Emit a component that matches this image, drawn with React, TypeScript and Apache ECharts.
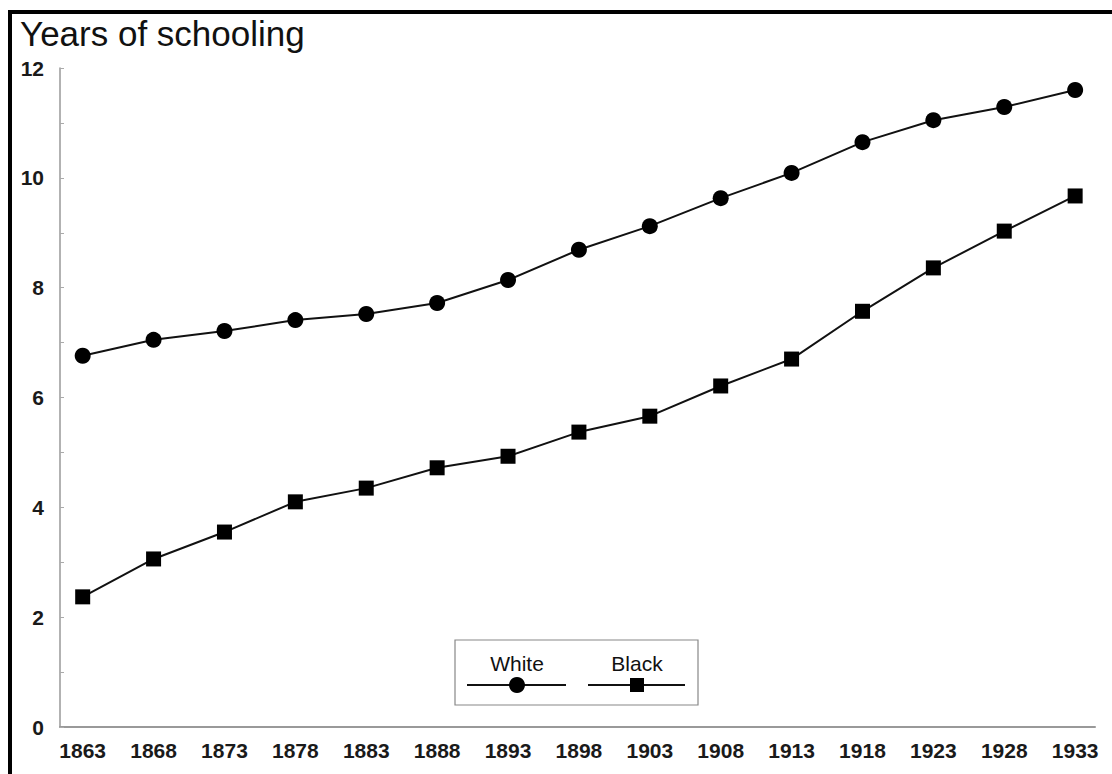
import React, { useEffect, useRef } from "react";
import * as echarts from "echarts";

const years = [1863, 1868, 1873, 1878, 1883, 1888, 1893, 1898, 1903, 1908, 1913, 1918, 1923, 1928, 1933];
const whiteValues = [6.76, 7.05, 7.21, 7.41, 7.52, 7.72, 8.14, 8.69, 9.12, 9.63, 10.09, 10.65, 11.05, 11.29, 11.6];
const blackValues = [2.37, 3.06, 3.55, 4.1, 4.35, 4.72, 4.93, 5.37, 5.66, 6.21, 6.7, 7.57, 8.36, 9.03, 9.67];
const yLabels = [0, 2, 4, 6, 8, 10, 12];
const titleText = "Years of schooling";
const seriesNames = ["White", "Black"];

export default function App() {
  const ref = useRef<HTMLDivElement>(null);
  useEffect(() => {
    if (!ref.current) return;
    const chart = echarts.init(ref.current, undefined, { renderer: "svg" });
    const labelFont = { fontFamily: "Liberation Sans", fontSize: 21, fontWeight: "bold" as const, color: "#1a1a1a" };
    chart.setOption({
      animation: false,
      backgroundColor: "#fff",
      grid: { left: 60, right: 17, top: 68, bottom: 47, containLabel: false },
      xAxis: {
        type: "value",
        min: 1861.4,
        max: 1934.4,
        splitLine: { show: false },
        axisTick: { show: false },
        axisLine: { show: true, lineStyle: { color: "#999", width: 2 } },
        axisLabel: {
          ...labelFont,
          margin: 13,
          customValues: years,
          formatter: (v: number) => String(v),
        },
      },
      yAxis: {
        type: "value",
        min: 0,
        max: 12,
        interval: 1,
        splitLine: { show: false },
        axisLine: { show: true, lineStyle: { color: "#999", width: 1.5 } },
        axisTick: { show: true, inside: true, length: 4, lineStyle: { color: "#aaa", width: 1 } },
        axisLabel: {
          ...labelFont,
          margin: 16,
          formatter: (v: number) => (yLabels.indexOf(v) >= 0 ? String(v) : ""),
        },
      },
      series: [
        {
          name: seriesNames[0],
          type: "line",
          data: years.map((y, i) => [y, whiteValues[i]]),
          symbol: "circle",
          symbolSize: 16,
          lineStyle: { color: "#111", width: 2 },
          itemStyle: { color: "#000" },
        },
        {
          name: seriesNames[1],
          type: "line",
          data: years.map((y, i) => [y, blackValues[i]]),
          symbol: "rect",
          symbolSize: 15,
          lineStyle: { color: "#111", width: 2 },
          itemStyle: { color: "#000" },
        },
      ],
      graphic: [
        { type: "rect", shape: { x: 8, y: 10, width: 1104, height: 4 }, style: { fill: "#000" } },
        { type: "rect", shape: { x: 8, y: 10, width: 4, height: 764 }, style: { fill: "#000" } },
        {
          type: "text",
          left: 20,
          top: 16,
          style: { text: titleText, fontFamily: "Liberation Sans", fontSize: 35, fill: "#111" },
        },
        {
          type: "rect",
          shape: { x: 455, y: 640, width: 243, height: 65 },
          style: { fill: "#fff", stroke: "#888", lineWidth: 1.2 },
        },
        {
          type: "text",
          x: 517,
          y: 663,
          style: { text: seriesNames[0], fontFamily: "Liberation Sans", fontSize: 21, fill: "#111", align: "center", verticalAlign: "middle" },
        },
        {
          type: "text",
          x: 637,
          y: 663,
          style: { text: seriesNames[1], fontFamily: "Liberation Sans", fontSize: 21, fill: "#111", align: "center", verticalAlign: "middle" },
        },
        { type: "line", shape: { x1: 467, y1: 685, x2: 566, y2: 685 }, style: { stroke: "#111", lineWidth: 2 } },
        { type: "circle", shape: { cx: 517, cy: 685, r: 8 }, style: { fill: "#000" } },
        { type: "line", shape: { x1: 588, y1: 685, x2: 685, y2: 685 }, style: { stroke: "#111", lineWidth: 2 } },
        { type: "rect", shape: { x: 630, y: 678, width: 14, height: 14 }, style: { fill: "#000" } },
      ],
    });
    return () => chart.dispose();
  }, []);
  return (
    <div
      ref={ref}
      style={{ position: "absolute", left: 0, top: 0, width: 1112, height: 774, background: "#fff" }}
    />
  );
}
